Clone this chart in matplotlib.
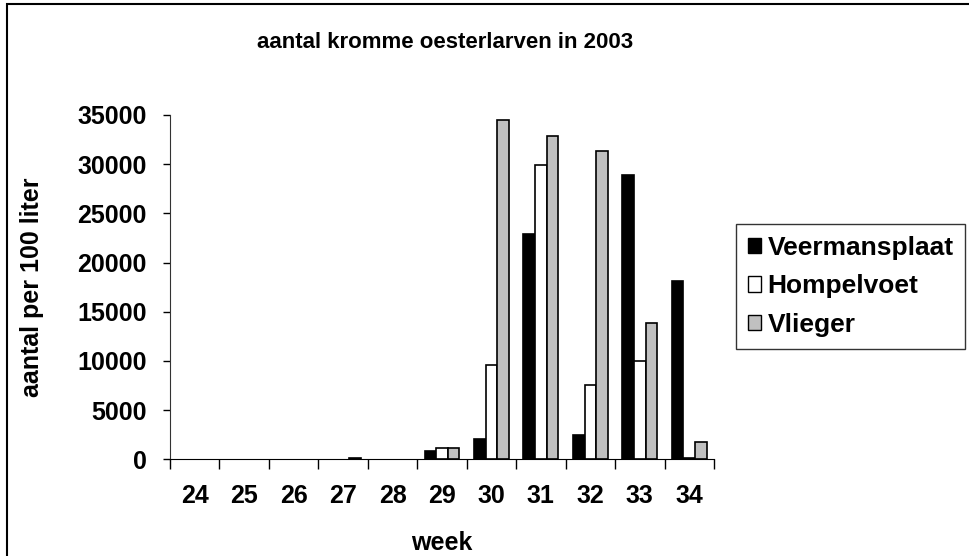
import matplotlib
matplotlib.use("Agg")
import matplotlib.pyplot as plt
from matplotlib.patches import Rectangle, Patch
import numpy as np

plt.rcParams["font.family"] = ["Liberation Sans", "DejaVu Sans"]
plt.rcParams["font.weight"] = "bold"

# aantal kromme oesterlarven per 100 liter, per week (2003)
weken = ["24", "25", "26", "27", "28", "29", "30", "31", "32", "33", "34"]
veermansplaat = [0, 0, 0, 0, 0, 850, 2050, 22900, 2480, 28950, 18120]
hompelvoet = [0, 0, 0, 0, 0, 1180, 9550, 29930, 7510, 9960, 160]
vlieger = [0, 0, 0, 130, 0, 1180, 34450, 32820, 31390, 13880, 1800]

reeksen = [("Veermansplaat", veermansplaat, "black"),
           ("Hompelvoet", hompelvoet, "white"),
           ("Vlieger", vlieger, "#c0c0c0")]

W, H = 970, 556
fig = plt.figure(figsize=(W / 100, H / 100), dpi=100)
ax = fig.add_axes([170 / W, (H - 459.3) / H, 544 / W, 344.3 / H])

x = np.arange(len(weken))
breedte = 0.235
for i, (naam, waarden, kleur) in enumerate(reeksen):
    staven = ax.bar(x + (i - 1) * breedte, waarden, breedte, color=kleur,
                    edgecolor="black", linewidth=1.2, label=naam)
    # staven met waarde 0 niet tekenen
    for s, w in zip(staven, waarden):
        if w == 0:
            s.set_visible(False)

ax.set_xlim(-0.5, len(weken) - 0.5)
ax.set_ylim(0, 35000)
ax.set_yticks(range(0, 35001, 5000))
ax.set_xticks(x)
ax.set_xticklabels(weken)
ax.set_xticks(np.arange(-0.5, len(weken), 1), minor=True)
ax.tick_params(axis="x", which="major", length=0, pad=18, labelsize=18)
ax.tick_params(axis="x", which="minor", length=7, width=1)
ax.tick_params(axis="y", length=5, width=1, labelsize=18, pad=12)
for s in ["top", "right"]:
    ax.spines[s].set_visible(False)
ax.spines["left"].set_color("#333333")

ax.set_xlabel("week", fontsize=18, fontweight="bold", labelpad=16)
ax.set_ylabel("aantal per 100 liter", fontsize=18, fontweight="bold", labelpad=24)
fig.text(445 / W, 1 - 43 / H, "aantal kromme oesterlarven in 2003",
         ha="center", va="center", fontsize=16, fontweight="bold")

handles = [Patch(facecolor=k, edgecolor="black", linewidth=1) for _, _, k in reeksen]
leg = fig.legend(handles, [n for n, _, _ in reeksen], loc="upper left",
                 bbox_to_anchor=(735.7 / W, 1 - 224 / H), fontsize=19,
                 frameon=True, fancybox=False, edgecolor="black",
                 handlelength=0.5, handleheight=0.5, handletextpad=0.25,
                 labelspacing=0.55, borderpad=0.45, borderaxespad=0)
leg.get_frame().set_linewidth(1)
for t in leg.get_texts():
    t.set_fontweight("bold")

# kader rond het diagram
fig.add_artist(Rectangle((7.5 / W, -0.05), 1.1, 1 - 4 / H + 0.05,
                         transform=fig.transFigure, fill=False,
                         edgecolor="black", linewidth=1.5, clip_on=False))

fig.savefig("out.png", dpi=100)
